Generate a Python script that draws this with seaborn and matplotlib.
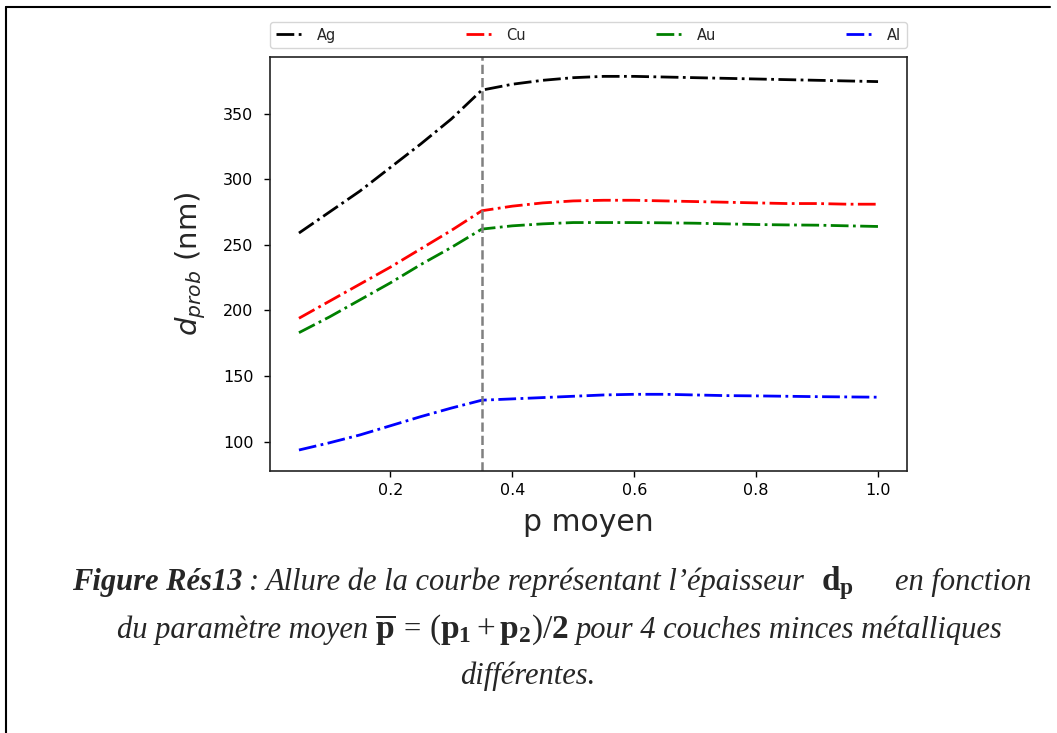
import matplotlib
matplotlib.use("Agg")
import matplotlib.pyplot as plt
import matplotlib.transforms as mtransforms
from matplotlib.lines import Line2D
import seaborn as sns

# ---------------- data ----------------
p_moyen = [0.05, 0.10, 0.15, 0.20, 0.25, 0.30, 0.35, 0.40, 0.45, 0.50,
           0.55, 0.60, 0.65, 0.70, 0.75, 0.80, 0.85, 0.90, 0.95, 1.00]
d_ag = [259, 275, 291, 309, 327, 346, 368, 372.5, 375.5, 377.5,
        378.5, 378.5, 378, 377.5, 377, 376.5, 376, 375.5, 375, 374.5]
d_cu = [194, 207, 220, 233, 247, 261, 276, 279.5, 282, 283.5,
        284, 284, 283.5, 283, 282.5, 282, 281.5, 281.5, 281, 281]
d_au = [183, 195, 208, 221, 235, 248, 262, 264.5, 266, 267,
        267, 267, 266.8, 266.5, 266, 265.5, 265.2, 265, 264.5, 264]
d_al = [93.5, 99, 105, 112, 119, 125.5, 131.5, 132.5, 133.5, 134.5,
        135.5, 136, 136, 135.5, 135, 134.8, 134.5, 134.2, 134, 133.8]
metals = ["Ag", "Cu", "Au", "Al"]
series = [d_ag, d_cu, d_au, d_al]
colors = ["black", "red", "green", "blue"]
p_seuil = 0.35
x_ticks = [0.2, 0.4, 0.6, 0.8, 1.0]
y_ticks = [100, 150, 200, 250, 300, 350]

# ---------------- style ----------------
sns.set_style("ticks")
plt.rcParams["font.family"] = ["DejaVu Sans"]
plt.rcParams["mathtext.rm"] = "Liberation Serif"
plt.rcParams["mathtext.it"] = "Liberation Serif:italic"
plt.rcParams["mathtext.bf"] = "Liberation Serif:bold"

W, H = 1057, 733
fig = plt.figure(figsize=(W / 100, H / 100), dpi=100)
fig.patch.set_facecolor("white")

ax = fig.add_axes([270 / W, 1 - 471 / H, (907 - 270) / W, (471 - 56.7) / H])

for name, col, vals in zip(metals, colors, series):
    sns.lineplot(x=p_moyen, y=vals, ax=ax, color=col, linestyle="-.",
                 linewidth=2.0, label=name)

ax.axvline(p_seuil, color="grey", linestyle="--", linewidth=1.8)

ax.set_xticks(x_ticks)
ax.set_yticks(y_ticks)
ax.set_xticklabels([f"{t:.1f}" for t in x_ticks])
ax.set_ylim(77.5, 393.5)
ax.tick_params(axis="both", labelsize=11.5, length=4, width=1, colors="black")
ax.tick_params(axis="y", pad=8)
ax.tick_params(axis="x", pad=5)
for s in ax.spines.values():
    s.set_visible(True)
    s.set_color("#222222")
    s.set_linewidth(1.2)

ax.set_xlabel("p moyen", fontsize=21.5, labelpad=7)
ax.set_ylabel(r"$d_{prob}$ (nm)", fontsize=21, labelpad=11)

ax.legend(loc="lower left", bbox_to_anchor=(0, 1.02, 1, 0.102), ncol=4,
          mode="expand", borderaxespad=0, fontsize=10.5)

# ---------------- document frame ----------------
fig.add_artist(Line2D([6 / W, 6 / W], [0, 1 - 7 / H], transform=fig.transFigure,
                      color="black", linewidth=1.5))
fig.add_artist(Line2D([6 / W, 1050 / W], [1 - 7 / H, 1 - 7 / H],
                      transform=fig.transFigure, color="black", linewidth=1.5))

# ---------------- caption ----------------
renderer = fig.canvas.get_renderer()
ident = mtransforms.IdentityTransform()
FS = 22
it = dict(family="Liberation Serif", style="italic", size=FS)
bi = dict(family="Liberation Serif", style="italic", weight="bold", size=FS)
rm = dict(family="Liberation Serif", size=FS)
mth = dict(math_fontfamily="custom", size=FS + 2)


def place_line(pieces, baseline_y, x_left=None, x_center=None):
    arts = []
    total = 0.0
    for item in pieces:
        if isinstance(item, (int, float)):
            arts.append((None, float(item)))
            total += item
            continue
        s, kw = item
        t = fig.text(0, 0, s, transform=ident, ha="left", va="baseline", **kw)
        w = t.get_window_extent(renderer).width
        arts.append((t, w))
        total += w
    x = x_left if x_left is not None else x_center - total / 2
    for t, w in arts:
        if t is not None:
            t.set_position((x, H - baseline_y))
        x += w


place_line([("Figure Rés13", bi), 6, (":", it), 7,
            ("Allure de la courbe représentant l’épaisseur", it), 16,
            (r"$\mathbf{d}_{\mathbf{p}}$", mth), 42, ("en fonction", it)],
           590, x_center=552)
place_line([("du paramètre moyen", it), 7, (r"$\overline{\mathbf{p}}$", mth), 8,
            ("=", rm), 8,
            (r"$(\mathbf{p}_{\mathbf{1}}+\mathbf{p}_{\mathbf{2}})/\mathbf{2}$", mth), 7,
            ("pour 4 couches minces métalliques", it)],
           638, x_center=560)
place_line([("différentes.", it)], 684, x_center=528)

fig.savefig("out.png", dpi=100, facecolor="white")
